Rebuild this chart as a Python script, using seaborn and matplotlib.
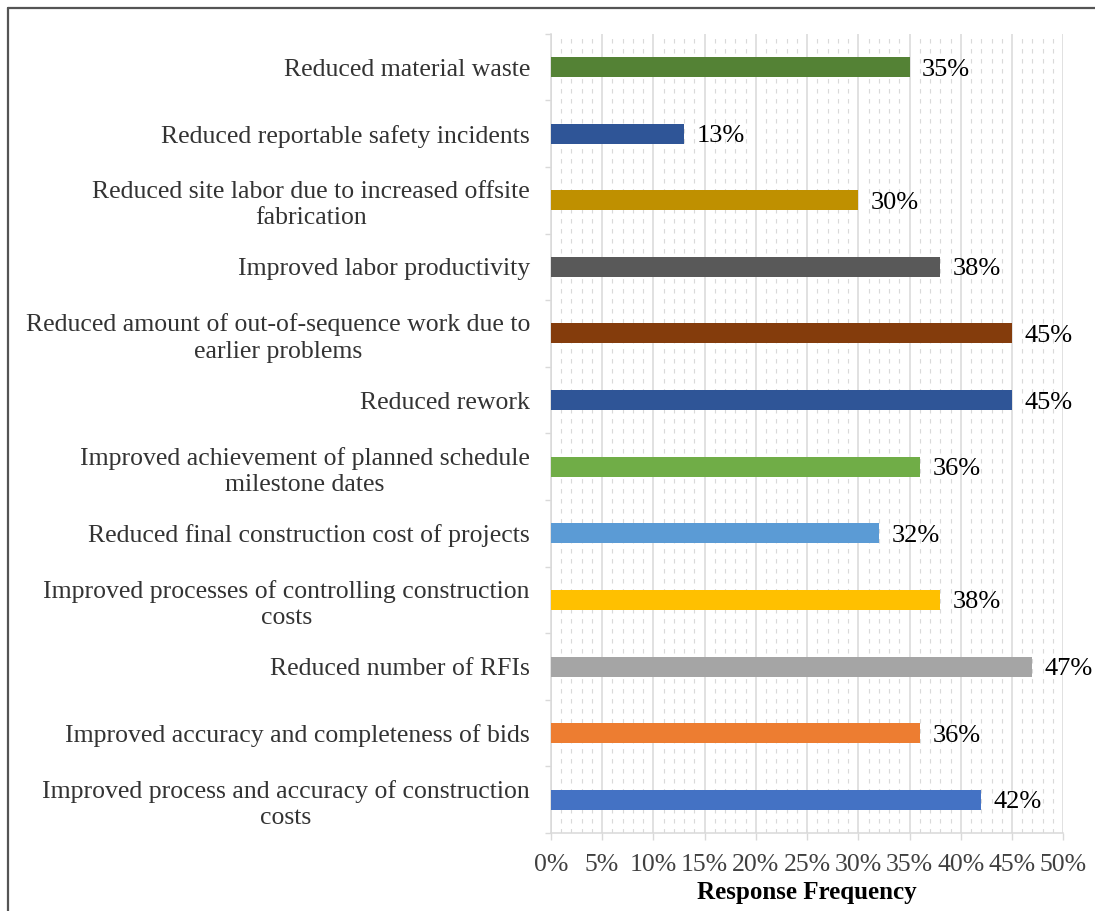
import matplotlib
matplotlib.use("Agg")
import matplotlib.pyplot as plt
import seaborn as sns
import pandas as pd
import numpy as np
from matplotlib.ticker import MultipleLocator, FixedLocator
from matplotlib.lines import Line2D

categories = [
    "Reduced material waste",
    "Reduced reportable safety incidents",
    "Reduced site labor due to increased offsite\nfabrication",
    "Improved labor productivity",
    "Reduced amount of out-of-sequence work due to\nearlier problems",
    "Reduced rework",
    "Improved achievement of planned schedule\nmilestone dates",
    "Reduced final construction cost of projects",
    "Improved processes of controlling construction\ncosts",
    "Reduced number of RFIs",
    "Improved accuracy and completeness of bids",
    "Improved process and accuracy of construction\ncosts",
]
values = [35, 13, 30, 38, 45, 45, 36, 32, 38, 47, 36, 42]
colors = ["#548235", "#2F5597", "#BF9000", "#595959", "#843C0C", "#2F5597",
          "#70AD47", "#5B9BD5", "#FFC000", "#A5A5A5", "#ED7D31", "#4472C4"]
xticks = [0, 5, 10, 15, 20, 25, 30, 35, 40, 45, 50]
xlabel = "Response Frequency"

df = pd.DataFrame({"cat": categories, "val": values})

sns.set_theme(style="white")
plt.rcParams["font.family"] = ["Liberation Serif", "DejaVu Serif"]

fig = plt.figure(figsize=(10.95, 9.11), dpi=100)
ax = fig.add_axes([0.503, 0.0855, 0.468, 0.8775])

sns.barplot(data=df, y="cat", x="val", hue="cat", palette=colors, legend=False,
            orient="h", width=0.3, linewidth=0, saturation=1, ax=ax, zorder=3)

ax.set_xlim(0, 50)
ax.set_ylim(len(categories) - 0.5, -0.5)

ax.xaxis.set_major_locator(FixedLocator(xticks))
ax.set_xticklabels([f"{t}%" for t in xticks])
ax.xaxis.set_minor_locator(MultipleLocator(1))
ax.grid(which="major", axis="x", color="#D9D9D9", linewidth=1.1, zorder=0)
ax.grid(which="minor", axis="x", color="#D9D9D9", linewidth=0.8,
        linestyle=(0, (4, 5)), zorder=0)
ax.grid(axis="y", visible=False)
ax.set_axisbelow(True)

for s in ["top", "right"]:
    ax.spines[s].set_visible(False)
for s in ["left", "bottom"]:
    ax.spines[s].set_color("#D9D9D9")
    ax.spines[s].set_linewidth(1.1)

ax.yaxis.set_minor_locator(FixedLocator(np.arange(-0.5, len(categories), 1)))
ax.tick_params(axis="y", which="major", length=0, pad=15, labelsize=18.5,
               labelcolor="#333333")
ax.tick_params(axis="y", which="minor", length=4, width=1, color="#D9D9D9", left=True)
ax.tick_params(axis="x", which="major", length=5, width=1, color="#D9D9D9",
               pad=10, labelsize=18.5, labelcolor="#404040", bottom=True)
ax.tick_params(axis="x", which="minor", length=0)
for lab in ax.get_yticklabels():
    lab.set_multialignment("center")
    lab.set_linespacing(1.25)

ax.set_ylabel("")
ax.set_xlabel(xlabel, fontsize=18, fontweight="bold", color="black", labelpad=4)

for c in ax.containers:
    texts = ax.bar_label(c, labels=[f"{v:.0f}%" for v in c.datavalues], padding=9,
                         fontsize=19, color="black")
    for t in texts:
        t.set_va("center_baseline")

fig.add_artist(Line2D([0.0073, 1.0], [0.9912, 0.9912], transform=fig.transFigure,
                      color="#555555", linewidth=1.6))
fig.add_artist(Line2D([0.0073, 0.0073], [0.0, 0.9912], transform=fig.transFigure,
                      color="#555555", linewidth=1.6))

fig.savefig("out.png", dpi=100)
